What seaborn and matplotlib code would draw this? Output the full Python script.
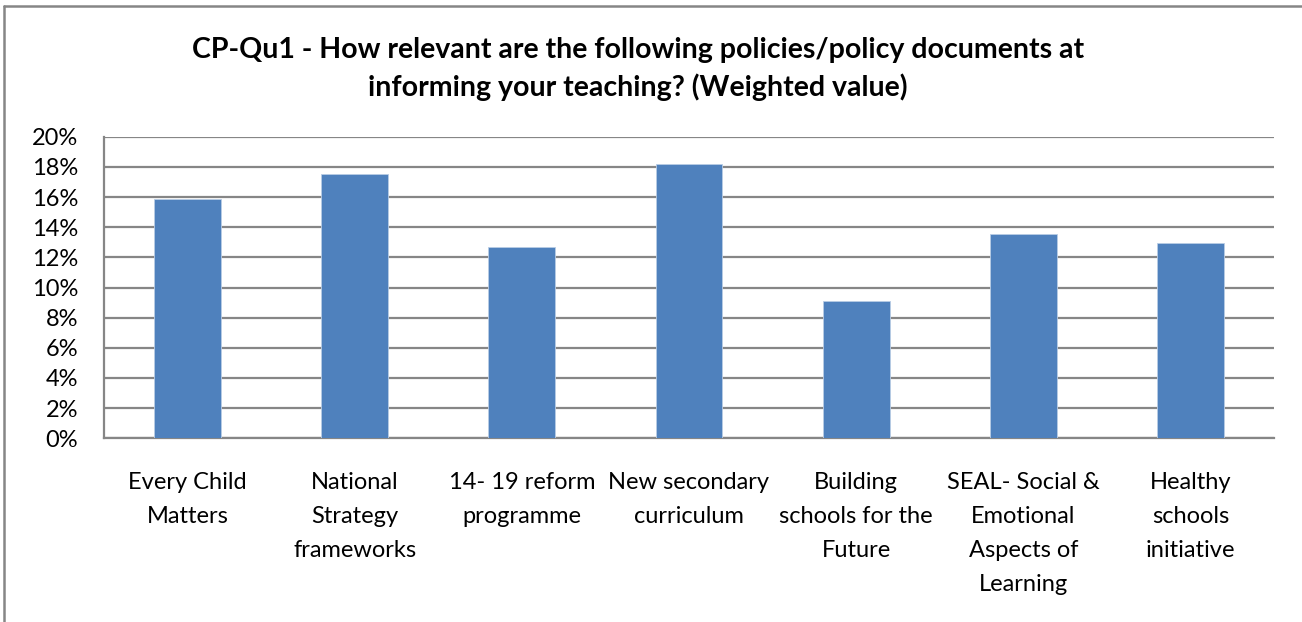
import matplotlib
matplotlib.use("Agg")
import matplotlib.pyplot as plt
import seaborn as sns
import pandas as pd
from matplotlib.lines import Line2D
from matplotlib.ticker import PercentFormatter

# Policy documents and their weighted relevance (percent)
categories = [
    "Every Child\nMatters",
    "National\nStrategy\nframeworks",
    "14- 19 reform\nprogramme",
    "New secondary\ncurriculum",
    "Building\nschools for the\nFuture",
    "SEAL- Social &\nEmotional\nAspects of\nLearning",
    "Healthy\nschools\ninitiative",
]
values = [15.85, 17.53, 12.69, 18.21, 9.10, 13.55, 12.93]
y_ticks = [0, 2, 4, 6, 8, 10, 12, 14, 16, 18, 20]

title = ("CP-Qu1 - How relevant are the following policies/policy documents at\n"
         "informing your teaching? (Weighted value)")

df = pd.DataFrame({"policy": categories, "value": values})

sns.set_theme(style="white")
plt.rcParams["font.family"] = ["Lato", "DejaVu Sans"]

grid_col = "#868686"
bar_col = "#4F81BD"

fig = plt.figure(figsize=(13.02, 6.22), dpi=100)
ax = fig.add_axes([104 / 1302, 1 - 438.3 / 622, (1274 - 104) / 1302, (438.3 - 136.7) / 622])

sns.barplot(data=df, x="policy", y="value", color=bar_col, width=0.4,
            saturation=1, edgecolor="#B9CDE5", linewidth=0.6, ax=ax, zorder=3)

ax.set_ylim(0, 20)
ax.set_xlim(-0.5, len(categories) - 0.5)
ax.set_yticks(y_ticks)
ax.yaxis.set_major_formatter(PercentFormatter(decimals=0))
ax.set_xlabel("")
ax.set_ylabel("")

# horizontal gridlines
ax.yaxis.grid(True, color=grid_col, linewidth=1.6, zorder=0)
ax.xaxis.grid(False)
ax.set_axisbelow(True)

for side in ["top", "right"]:
    ax.spines[side].set_visible(False)
for side in ["left", "bottom"]:
    ax.spines[side].set_color(grid_col)
    ax.spines[side].set_linewidth(1.6)

# category labels, with boundary ticks on the x axis
ax.set_xticks(range(len(categories)))
ax.set_xticklabels(categories, fontsize=17, color="#000000", linespacing=1.75, va="top")
ax.tick_params(axis="x", length=0, pad=24.5)
ax.set_xticks([i - 0.5 for i in range(len(categories) + 1)], minor=True)
ax.tick_params(axis="x", which="minor", length=7, width=1.6, color=grid_col, direction="out")
ax.tick_params(axis="y", labelsize=17, length=6.5, width=1.6, color=grid_col,
               direction="out", pad=12, labelcolor="#000000")

fig.text(0.49, 1 - 69 / 622, title, ha="center", va="center", fontsize=20.5,
         fontweight="bold", linespacing=1.45, color="#000000")

# chart border (top and left edges)
fig.add_artist(Line2D([3.5 / 1302, 1.0], [1 - 5.5 / 622, 1 - 5.5 / 622],
                      transform=fig.transFigure, color=grid_col, linewidth=1.8))
fig.add_artist(Line2D([3.5 / 1302, 3.5 / 1302], [0.0, 1 - 5.5 / 622],
                      transform=fig.transFigure, color=grid_col, linewidth=1.8))

fig.savefig("out.png", dpi=100)
